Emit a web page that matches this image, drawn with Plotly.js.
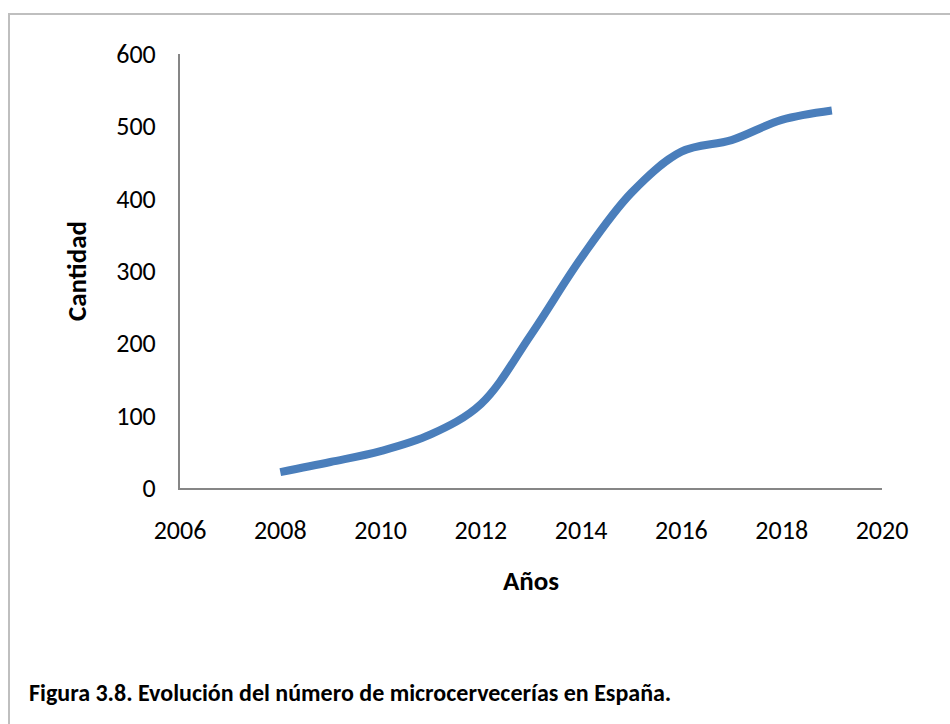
<!DOCTYPE html>
<html>
<head>
<meta charset="utf-8">
<script src="https://cdn.plot.ly/plotly-3.0.1.min.js"></script>
<style>
  html, body { margin: 0; padding: 0; background: #ffffff; }
  #chart { width: 950px; height: 724px; }
</style>
</head>
<body>
<div id="chart"></div>
<script>
const years = [2008, 2009, 2010, 2011, 2012, 2013, 2014, 2015, 2016, 2017, 2018, 2019];
const cantidad = [22, 36, 51, 74, 116, 212, 318, 408, 465, 481, 509, 522];
const xTitle = 'Años';
const yTitle = 'Cantidad';
const caption = 'Figura 3.8. Evolución del número de microcervecerías en España.';

const FONT = 'Carlito, Calibri, "Open Sans", sans-serif';

const trace = {
  x: years,
  y: cantidad,
  type: 'scatter',
  mode: 'lines',
  line: { color: '#4a7ebb', width: 8, shape: 'spline', smoothing: 1 },
  hoverinfo: 'x+y'
};

const layout = {
  width: 950,
  height: 724,
  margin: { l: 180, r: 68, t: 54, b: 236 },
  paper_bgcolor: '#ffffff',
  plot_bgcolor: '#ffffff',
  showlegend: false,
  font: { family: FONT, color: '#000000', size: 26 },
  xaxis: {
    range: [2006, 2020],
    dtick: 2,
    tick0: 2006,
    showgrid: false,
    zeroline: false,
    showline: true,
    linecolor: '#868686',
    linewidth: 2,
    ticks: 'outside',
    ticklen: 18,
    tickcolor: 'rgba(0,0,0,0)',
    tickfont: { family: FONT, size: 26, color: '#000000' },
    title: { text: '<b>' + xTitle + '</b>', font: { family: FONT, size: 27, color: '#000000' }, standoff: 26 }
  },
  yaxis: {
    range: [0, 600],
    dtick: 100,
    showgrid: false,
    zeroline: false,
    showline: true,
    linecolor: '#868686',
    linewidth: 2,
    ticks: 'outside',
    ticklen: 17,
    tickcolor: 'rgba(0,0,0,0)',
    tickfont: { family: FONT, size: 26, color: '#000000' },
    title: { text: '<b>' + yTitle + '</b>', font: { family: FONT, size: 27, color: '#000000' }, standoff: 22 }
  },
  shapes: [
    {
      type: 'rect', xref: 'paper', yref: 'paper',
      x0: (9 - 180) / 702, x1: (960 - 180) / 702,
      y0: (488 - 740) / 434, y1: (488 - 14) / 434,
      line: { color: '#bfbfbf', width: 2 },
      fillcolor: 'rgba(0,0,0,0)'
    }
  ],
  annotations: [
    {
      text: '<b>' + caption + '</b>',
      xref: 'paper', yref: 'paper',
      x: (27 - 180) / 702, y: (488 - 692) / 434,
      xanchor: 'left', yanchor: 'middle',
      showarrow: false,
      font: { family: FONT, size: 24, color: '#000000' }
    }
  ]
};

Plotly.newPlot('chart', [trace], layout, { displayModeBar: false, staticPlot: true });
</script>
</body>
</html>
